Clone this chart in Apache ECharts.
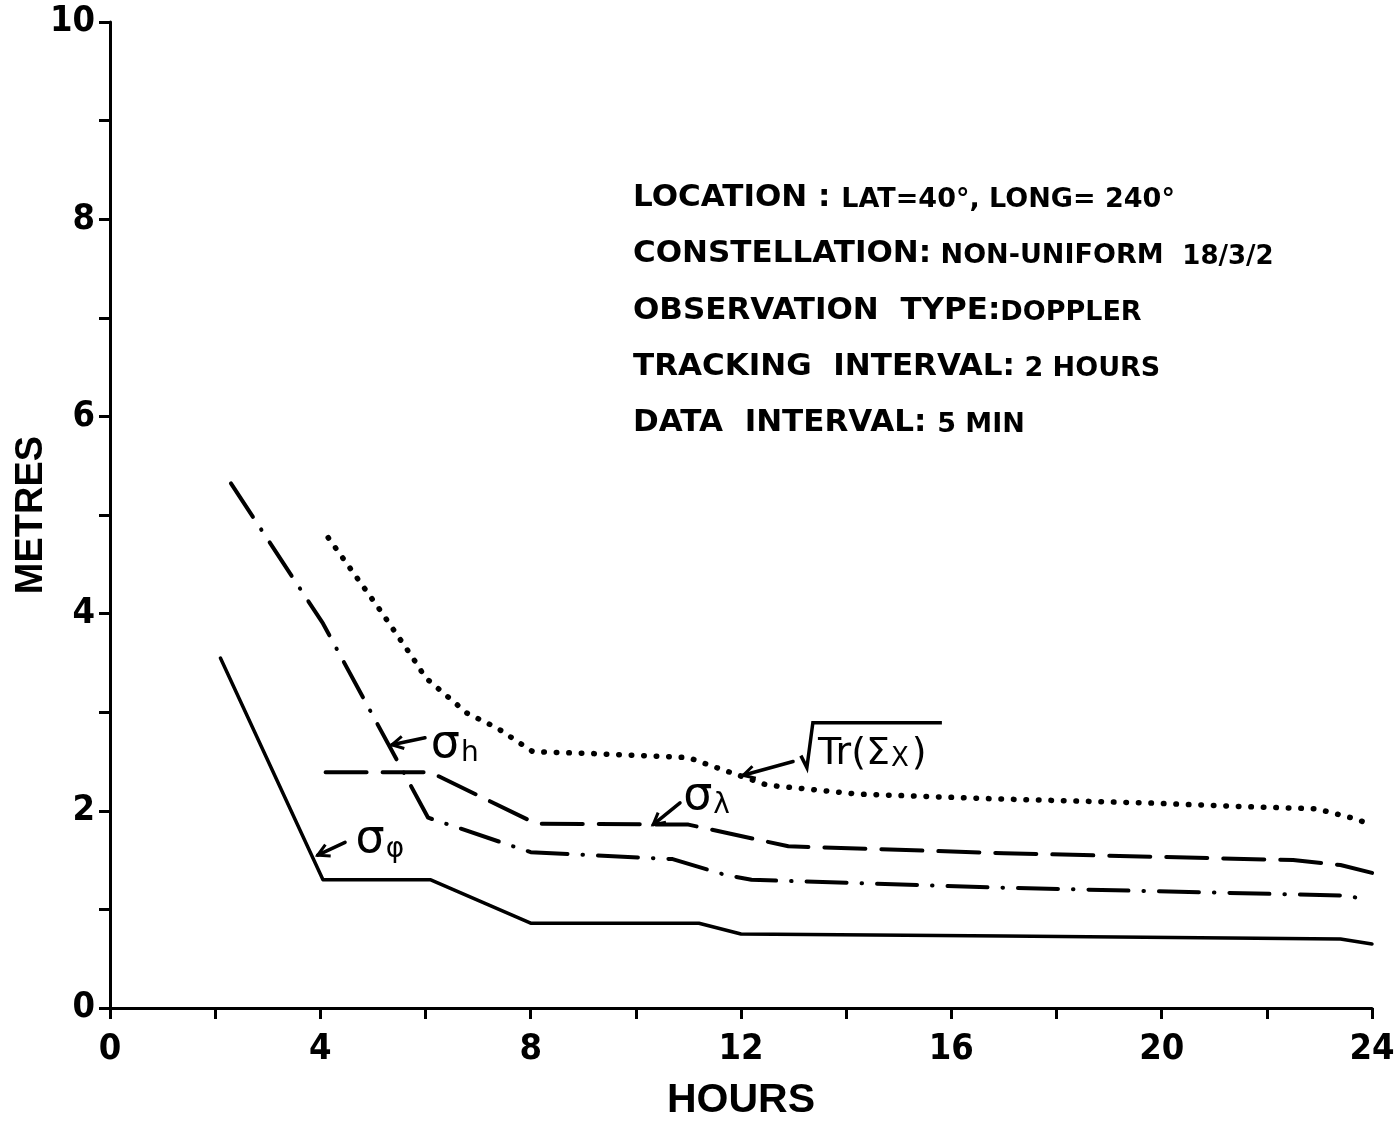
<!DOCTYPE html>
<html>
<head>
<meta charset="utf-8">
<title>Metres vs hours</title>
<script src="https://cdn.jsdelivr.net/npm/echarts@6/dist/echarts.min.js"></script>
<style>
  html, body { margin: 0; padding: 0; background: #fff; }
  #chart { width: 1395px; height: 1122px; }
</style>
</head>
<body>
<div id="chart"></div>
<script>
// tick labels
const hourTicks = [0, 4, 8, 12, 16, 20, 24]
const metreTicks = [0, 2, 4, 6, 8, 10]

// sigma phi (solid)
const hoursPhi = [2.1, 4.05, 6.1, 8.0, 11.2, 12.0, 17.0, 23.4, 24.0]
const metresPhi = [3.55, 1.30, 1.30, 0.86, 0.86, 0.75, 0.73, 0.70, 0.65]

// sigma h (dash-dot)
const hoursH = [2.3, 4.05, 6.05, 8.0, 10.7, 11.7, 12.2, 17.0, 23.5, 23.9]
const metresH = [5.32, 3.90, 1.93, 1.58, 1.51, 1.35, 1.30, 1.22, 1.14, 1.10]

// sigma lambda (dashed)
const hoursLambda = [4.1, 6.1, 8.1, 11.0, 12.9, 17.0, 22.5, 23.4, 24.0]
const metresLambda = [2.39, 2.39, 1.87, 1.86, 1.64, 1.57, 1.50, 1.45, 1.37]

// sqrt(Tr(Sigma_x)) (dotted)
const hoursTr = [4.15, 5.13, 5.76, 6.0, 6.79, 7.36, 8.04, 9.2, 11.0, 11.47, 12.5, 14.2, 16.9, 19.7, 21.7, 22.95, 23.6, 24.0]
const metresTr = [4.77, 4.04, 3.55, 3.35, 2.99, 2.84, 2.60, 2.58, 2.54, 2.45, 2.26, 2.17, 2.12, 2.08, 2.04, 2.02, 1.93, 1.86]

const infoLines = [
  ['LOCATION : ', 'LAT=40°, LONG= 240°', ''],
  ['CONSTELLATION:', ' NON-UNIFORM  ', '18/3/2'],
  ['OBSERVATION  TYPE:', 'DOPPLER', ''],
  ['TRACKING  INTERVAL:', ' 2 HOURS', ''],
  ['DATA  INTERVAL: ', '5 MIN', '']
]

const pairs = (xs, ys) => xs.map((x, i) => [x, ys[i]])

const tickFont = "'Liberation Sans Narrow', 'DejaVu Sans Condensed', sans-serif"

const lineSeries = (name, xs, ys, type, width) => ({
  name,
  type: 'line',
  data: pairs(xs, ys),
  showSymbol: false,
  silent: true,
  lineStyle: { color: '#000', width, type, cap: 'round', join: 'round' }
})

const option = {
  animation: false,
  backgroundColor: '#fff',
  grid: { left: 110, right: 23, top: 22, bottom: 114, outerBoundsMode: 'none', containLabel: false },
  xAxis: {
    type: 'value',
    min: 0,
    max: 24,
    interval: 2,
    name: 'HOURS',
    nameLocation: 'middle',
    nameGap: 72,
    nameMoveOverlap: false,
    nameTextStyle: { color: '#000', fontSize: 41, fontWeight: 'bold', fontFamily: 'Liberation Sans' },
    splitLine: { show: false },
    axisLine: { lineStyle: { color: '#000', width: 3 } },
    axisTick: { length: 11, lineStyle: { color: '#000', width: 3 } },
    axisLabel: {
      margin: 24,
      color: '#000',
      fontSize: 36,
      fontWeight: 'bold',
      fontFamily: tickFont,
      formatter: v => hourTicks.includes(v) ? String(v) : ''
    }
  },
  yAxis: {
    type: 'value',
    min: 0,
    max: 10,
    interval: 1,
    name: 'METRES',
    nameLocation: 'middle',
    nameGap: 59,
    nameMoveOverlap: false,
    nameTextStyle: { color: '#000', fontSize: 38, fontWeight: 'bold', fontFamily: 'Liberation Sans' },
    splitLine: { show: false },
    axisLine: { lineStyle: { color: '#000', width: 3 } },
    axisTick: { length: 11, lineStyle: { color: '#000', width: 3 } },
    axisLabel: {
      margin: 15,
      color: '#000',
      fontSize: 36,
      fontWeight: 'bold',
      fontFamily: tickFont,
      formatter: v => metreTicks.includes(v) ? String(v) : ''
    }
  },
  series: [
    lineSeries('σφ', hoursPhi, metresPhi, 'solid', 3.5),
    lineSeries('σh', hoursH, metresH, [40, 15, 0.5, 15], 4),
    lineSeries('σλ', hoursLambda, metresLambda, [41, 16], 4),
    lineSeries('√Tr(Σx)', hoursTr, metresTr, [0.5, 12], 5.5)
  ]
}

const chart = echarts.init(document.getElementById('chart'))
chart.setOption(option)

// annotation positions (data coordinates)
const sigmaLabels = [
  { at: [6.1, 2.67], sub: 'h' },
  { at: [4.67, 1.70], sub: 'φ' },
  { at: [10.9, 2.14], sub: 'λ' }
]
const arrows = [
  [[5.99, 2.74], [5.36, 2.67]],
  [[4.47, 1.68], [3.95, 1.55]],
  [[10.84, 2.08], [10.33, 1.86]],
  [[12.99, 2.50], [12.04, 2.36]]
]
const traceAt = [13.5, 2.6]

const px = p => chart.convertToPixel({ gridIndex: 0 }, p)

const arrowGraphic = (tail, head) => {
  const a = px(tail)
  const b = px(head)
  const ang = Math.atan2(a[1] - b[1], a[0] - b[0])
  const len = 13
  const p1 = [b[0] + len * Math.cos(ang + 0.5), b[1] + len * Math.sin(ang + 0.5)]
  const p2 = [b[0] + len * Math.cos(ang - 0.5), b[1] + len * Math.sin(ang - 0.5)]
  return [
    { type: 'line', shape: { x1: a[0], y1: a[1], x2: b[0], y2: b[1] }, style: { stroke: '#000', lineWidth: 3.5, lineCap: 'round' } },
    { type: 'polyline', shape: { points: [p1, b, p2] }, style: { stroke: '#000', lineWidth: 3, fill: null } }
  ]
}

const richSigma = {
  s: { fontSize: 46, fontFamily: 'DejaVu Sans', fill: '#000', verticalAlign: 'bottom' },
  i: { fontSize: 28, fontFamily: 'DejaVu Sans', fill: '#000', verticalAlign: 'bottom', padding: [0, 0, 0, 1] }
}

const graphics = []
sigmaLabels.forEach(l => {
  const p = px(l.at)
  graphics.push({
    type: 'text', x: p[0], y: p[1],
    style: { text: '{s|σ}{i|' + l.sub + '}', rich: richSigma, align: 'left', textAlign: 'left', verticalAlign: 'middle', textVerticalAlign: 'middle' }
  })
})
arrows.forEach(a => graphics.push(...arrowGraphic(a[0], a[1])))

const t = px(traceAt)
graphics.push({
  type: 'polyline',
  shape: { points: [[t[0] - 19, t[1] + 4], [t[0] - 13, t[1] + 16], [t[0] - 7, t[1] - 29], [t[0] + 122, t[1] - 29]] },
  style: { stroke: '#000', lineWidth: 3.5, fill: null }
})
graphics.push({
  type: 'text', x: t[0] - 2, y: t[1] + 2,
  style: {
    text: '{a|Tr(Σ}{b|X}{a|)}',
    rich: {
      a: { fontSize: 38, fontFamily: 'DejaVu Sans', fill: '#000', verticalAlign: 'bottom' },
      b: { fontSize: 26, fontFamily: 'DejaVu Sans', fill: '#000', verticalAlign: 'bottom', padding: [0, 3, 0, 1] }
    },
    align: 'left', textAlign: 'left', verticalAlign: 'middle', textVerticalAlign: 'middle'
  }
})

// info block
const infoRich = {
  b: { fontSize: 31, fontWeight: 'bold', fontFamily: 'DejaVu Sans', fill: '#000', verticalAlign: 'bottom' },
  s: { fontSize: 27, fontWeight: 'bold', fontFamily: 'DejaVu Sans', fill: '#000', verticalAlign: 'bottom' },
  t: { fontSize: 26, fontWeight: 'bold', fontFamily: 'DejaVu Sans', fill: '#000', verticalAlign: 'bottom' }
}
infoLines.forEach((parts, k) => {
  let txt = '{b|' + parts[0] + '}{s|' + parts[1] + '}'
  if (parts[2]) txt += '{t|' + parts[2] + '}'
  graphics.push({
    type: 'text', x: 633, y: 198 + k * 56.3,
    style: { text: txt, rich: infoRich, align: 'left', textAlign: 'left', verticalAlign: 'middle', textVerticalAlign: 'middle' }
  })
})

chart.setOption({ graphic: graphics })
</script>
</body>
</html>
